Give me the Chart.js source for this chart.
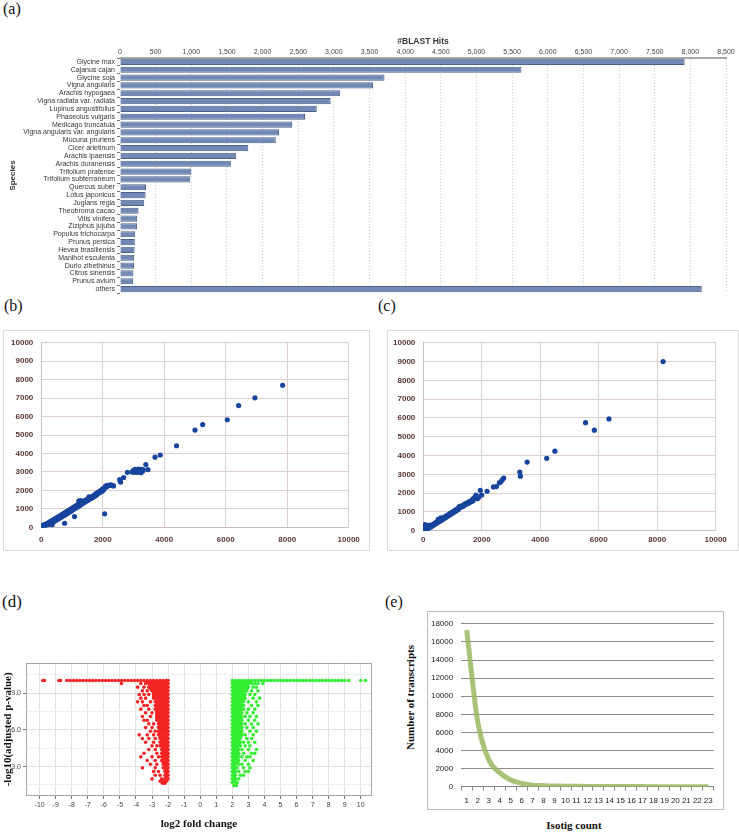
<!DOCTYPE html>
<html><head><meta charset="utf-8">
<script src="https://cdn.jsdelivr.net/npm/chart.js@4.4.1/dist/chart.umd.min.js"></script>
<style>
html,body{margin:0;padding:0;background:#fff;}
body{width:739px;height:832px;position:relative;overflow:hidden;font-family:'Liberation Serif',serif;}
canvas,.frame,.lbl,.ttl{position:absolute;}
.frame{box-sizing:border-box;border:1px solid #d9d9d9;}
.lbl{font-size:16px;line-height:16px;color:#111;white-space:nowrap;}
.ttl{font-weight:bold;font-size:11px;line-height:13px;text-align:center;white-space:nowrap;color:#111;}
</style></head><body>
<div class="lbl" style="left:3px;top:1px">(a)</div>
<div class="lbl" style="left:4px;top:298px">(b)</div>
<div class="lbl" style="left:378px;top:298px">(c)</div>
<div class="lbl" style="left:2px;top:593px;font-size:17px;line-height:17px">(d)</div>
<div class="lbl" style="left:385px;top:594px">(e)</div>

<canvas id="ca" width="739" height="272" style="left:0;top:30px"></canvas>

<div class="frame" style="left:3px;top:330px;width:367px;height:221px"></div>
<canvas id="cb" width="367" height="221" style="left:3px;top:330px"></canvas>

<div class="frame" style="left:387px;top:330px;width:352px;height:221px"></div>
<canvas id="cc" width="351" height="221" style="left:387px;top:330px"></canvas>

<canvas id="cd" width="380" height="182" style="left:0;top:650px"></canvas>

<div class="frame" style="left:427px;top:611px;width:297px;height:199px;border-color:#bdbdbd"></div>
<canvas id="ce" width="297" height="199" style="left:427px;top:611px"></canvas>
<div class="ttl" style="left:524px;top:819px;width:100px">Isotig count</div>
<div class="ttl" style="left:340px;top:691px;width:140px;transform:rotate(-90deg)">Number of transcripts</div>

<script>
// ---------- Panel (a): BLAST hits per species ----------
const species = ['Glycine max','Cajanus cajan','Glycine soja','Vigna angularis','Arachis hypogaea',
  'Vigna radiata var. radiata','Lupinus angustifolius','Phaseolus vulgaris','Medicago truncatula',
  'Vigna angularis var. angularis','Mucuna pruriens','Cicer arietinum','Arachis ipaensis',
  'Arachis duranensis','Trifolium pratense','Trifolium subterraneum','Quercus suber','Lotus japonicus',
  'Juglans regia','Theobroma cacao','Vitis vinifera','Ziziphus jujuba','Populus trichocarpa',
  'Prunus persica','Hevea brasiliensis','Manihot esculenta','Durio zibethinus','Citrus sinensis',
  'Prunus avium','others'];
const blastHits = [7920,5630,3710,3550,3090,2955,2760,2595,2415,2230,2185,1800,1630,1555,1000,985,
  365,360,340,260,240,238,212,208,205,198,196,188,184,8160];

// ---------- Panel (b) & (c): scatter points [x, y] ----------
const panelBPoints = [[0,0],[10,40],[20,10],[30,60],[40,20],[50,90],[60,40],[70,120],[80,60],[90,30],
 [100,100],[110,150],[120,80],[140,130],[150,40],[160,170],[170,110],[190,200],[200,150],[220,230],
 [230,170],[250,260],[260,190],[280,290],[290,220],[310,320],[320,250],[340,350],[350,130],[360,280],
 [380,390],[390,300],[410,420],[420,330],[440,450],[460,370],[470,480],[490,400],[500,510],[520,430],
 [530,540],[550,460],[560,570],[580,490],[590,600],[610,520],[620,630],[640,550],[650,660],[670,580],
 [680,690],[700,610],[710,720],[730,640],[740,750],[760,220],[760,670],[770,780],[790,700],[800,820],
 [820,730],[830,850],[850,760],[860,880],[880,790],[890,910],[910,830],[920,940],[940,860],[950,970],
 [970,890],[980,1000],[1000,920],[1010,1040],[1030,960],[1050,1080],[1070,1000],[1080,580],[1090,1120],
 [1110,1040],[1130,1160],[1150,1080],[1170,1200],[1190,1120],[1210,1250],[1220,1420],[1230,1160],
 [1250,1290],[1260,1450],[1280,1220],[1300,1340],[1310,1420],[1330,1280],[1350,1390],[1370,1320],
 [1400,1440],[1420,1370],[1450,1480],[1470,1420],[1500,1530],[1520,1470],[1550,1650],[1570,1520],
 [1600,1620],[1630,1570],[1660,1680],[1690,1630],[1720,1740],[1750,1700],[1780,1820],[1800,1760],
 [1830,1880],[1860,1840],[1890,1950],[1920,1900],[1950,2010],[1980,1960],[2000,2080],[2030,2040],
 [2060,730],[2060,2150],[2090,2230],[2120,2190],[2150,2280],[2200,2260],[2250,2300],[2300,2280],
 [2350,2240],[2550,2580],[2580,2450],[2680,2700],[2800,2980],[2950,3000],[3000,3080],[3020,2980],
 [3050,3140],[3080,3000],[3100,3060],[3130,2980],[3160,3160],[3190,3020],[3220,3100],[3240,2960],
 [3270,3140],[3300,3050],[3320,3120],[3400,3400],[3470,3130],[3700,3800],[3870,3920],[4400,4420],
 [5000,5270],[5250,5570],[6050,5830],[6420,6600],[6950,7020],[7850,7700]];

const panelCPoints = [[0,0],[0,100],[0,200],[10,300],[20,50],[30,250],[40,150],[50,320],[60,80],
 [70,200],[80,40],[90,130],[100,280],[110,90],[120,180],[130,60],[150,220],[160,120],[180,260],
 [190,150],[210,190],[220,300],[240,230],[260,200],[280,270],[300,250],[320,310],[340,290],[360,350],
 [380,330],[400,400],[420,370],[440,440],[460,410],[480,480],[500,450],[510,600],[530,520],[550,490],
 [570,560],[590,530],[600,680],[610,600],[630,570],[650,640],[670,610],[690,680],[710,650],[730,720],
 [750,690],[770,760],[790,730],[810,800],[830,770],[850,840],[870,810],[890,880],[910,850],[930,920],
 [950,890],[970,960],[990,930],[1010,1000],[1030,970],[1050,1040],[1070,1010],[1090,1080],[1110,1050],
 [1130,1120],[1150,1090],[1170,1160],[1190,1130],[1210,1200],[1230,1280],[1250,1230],[1270,1300],
 [1290,1250],[1320,1320],[1350,1290],[1380,1380],[1410,1350],[1440,1440],[1470,1410],[1500,1480],
 [1530,1450],[1560,1530],[1590,1500],[1620,1580],[1650,1560],[1680,1650],[1700,1600],[1720,1720],
 [1750,1750],[1780,1800],[1800,1900],[1850,1700],[1900,1800],[1950,2150],[2000,1900],[2180,2100],
 [2400,2330],[2500,2350],[2600,2550],[2650,2600],[2700,2700],[2750,2800],[3300,3120],[3320,2900],
 [3550,3650],[4220,3850],[4500,4230],[5550,5750],[5850,5350],[6350,5950],[8200,9000]];
const scatterTicks = {x:2000, y:1000};

// ---------- Panel (d): volcano rows [y, [x ...]] ----------
const downRegulated = [
 [10.05,[-9.8,-9.7,-8.8,-8.7,-8.3,-8.1,-7.9,-7.7,-7.5,-7.3,-7.1,-6.9,-6.7,-6.5,-6.3,-6.1,-5.9,-5.7,-5.5,-5.3,-5.1,-4.9,-4.7,-4.5,-4.3,-4.1,-3.9,-3.7,-3.5,-3.3,-3.1,-2.9,-2.7,-2.5,-2.3,-2.1,-2.0]],
 [9.95,[-2.1,-2.3,-2.5,-2.7,-2.9,-3.1,-3.3]],
 [9.8,[-2.0,-2.2,-2.4,-2.6,-2.8,-3.0,-3.2,-3.4,-3.7,-4.9]],
 [9.65,[-2.1,-2.3,-2.5,-2.7,-2.9,-3.1]],
 [9.5,[-2.0,-2.2,-2.4,-2.6,-2.8,-3.0,-3.2,-3.5,-3.9]],
 [9.35,[-2.1,-2.3,-2.5,-2.7,-2.9,-3.1]],
 [9.2,[-2.0,-2.2,-2.4,-2.6,-2.8,-3.0,-3.3,-3.6]],
 [9.05,[-2.1,-2.3,-2.5,-2.7,-2.9]],
 [8.9,[-2.0,-2.2,-2.4,-2.6,-2.8,-2.9,-3.2,-3.5,-3.8]],
 [8.75,[-2.1,-2.3,-2.5,-2.7,-2.9]],
 [8.6,[-2.0,-2.2,-2.4,-2.6,-2.8,-2.9,-3.4,-3.7]],
 [8.45,[-2.1,-2.3,-2.5,-2.7]],
 [8.3,[-2.0,-2.2,-2.4,-2.6,-2.8,-3.1,-3.6,-3.9]],
 [8.15,[-2.1,-2.3,-2.5,-2.7]],
 [8.0,[-2.0,-2.2,-2.4,-2.6,-2.8,-3.3,-3.5]],
 [7.85,[-2.1,-2.3,-2.5,-2.7]],
 [7.7,[-2.0,-2.2,-2.4,-2.6,-2.8,-3.2,-3.7]],
 [7.55,[-2.1,-2.3,-2.5,-2.7]],
 [7.4,[-2.0,-2.2,-2.4,-2.6,-2.7,-3.0,-3.4]],
 [7.25,[-2.1,-2.3,-2.5,-2.7]],
 [7.1,[-2.0,-2.2,-2.4,-2.6,-2.7,-3.1,-3.6]],
 [6.95,[-2.1,-2.3,-2.5,-2.7]],
 [6.8,[-2.0,-2.2,-2.4,-2.6,-2.7,-3.3,-3.5]],
 [6.65,[-2.1,-2.3,-2.5]],
 [6.5,[-2.0,-2.2,-2.4,-2.6,-2.9,-3.2]],
 [6.35,[-2.1,-2.3,-2.5]],
 [6.2,[-2.0,-2.2,-2.4,-2.6,-3.0,-3.4]],
 [6.05,[-2.1,-2.3,-2.5]],
 [5.9,[-2.0,-2.2,-2.4,-2.6,-2.8,-3.1]],
 [5.75,[-2.1,-2.3,-2.5]],
 [5.6,[-2.0,-2.2,-2.4,-2.6,-2.9,-3.3,-3.8]],
 [5.45,[-2.1,-2.3,-2.5]],
 [5.3,[-2.0,-2.2,-2.4,-2.5,-2.8,-3.2,-3.6]],
 [5.15,[-2.1,-2.3,-2.4]],
 [5.0,[-2.0,-2.2,-2.4,-2.5,-2.9,-3.4]],
 [4.85,[-2.1,-2.3,-2.4]],
 [4.7,[-2.0,-2.2,-2.4,-2.5,-2.7,-3.0]],
 [4.55,[-2.1,-2.3]],
 [4.4,[-2.0,-2.2,-2.4,-2.8,-3.2]],
 [4.25,[-2.1,-2.3]],
 [4.1,[-2.0,-2.2,-2.4,-2.7,-3.5]],
 [3.95,[-2.1,-2.3]],
 [3.8,[-2.0,-2.2,-2.4,-2.6,-3.0,-3.7]],
 [3.65,[-2.1,-2.3]],
 [3.5,[-2.0,-2.2,-2.4,-2.8,-3.3]],
 [3.35,[-2.1,-2.3]],
 [3.2,[-2.0,-2.2,-2.3,-2.7,-3.1]],
 [3.05,[-2.1]],
 [2.9,[-2.0,-2.2,-2.3,-2.8,-3.6]],
 [2.75,[-2.1]],
 [2.6,[-2.0,-2.2,-2.6,-2.9]],
 [2.45,[-2.1]],
 [2.3,[-2.0,-2.2,-2.5,-2.8]],
 [2.15,[-2.1]],
 [2.0,[-2.0,-2.2,-2.4,-3.0]],
 [1.8,[-2.1,-2.3,-2.5]],
 [1.65,[-2.2,-2.35]]
];
const upRegulated = [
 [10.05,[2.0,2.2,2.4,2.6,2.8,3.0,3.2,3.4,3.6,3.8,4.0,4.2,4.4,4.6,4.8,5.0,5.2,5.4,5.6,5.8,6.0,6.2,6.4,6.6,6.8,7.0,7.2,7.4,7.6,7.8,8.0,8.2,8.4,8.6,8.8,9.0,9.25,10.0,10.3]],
 [9.95,[2.1,2.3,2.5,2.7,2.9,3.1]],
 [9.8,[2.0,2.2,2.4,2.6,2.8,3.0,3.2,3.4,3.6,3.9]],
 [9.65,[2.1,2.3,2.5,2.7,2.9]],
 [9.5,[2.0,2.2,2.4,2.6,2.8,3.0,3.3,3.5]],
 [9.35,[2.1,2.3,2.5,2.7,2.9]],
 [9.2,[2.0,2.2,2.4,2.6,2.8,2.9,3.2,3.6]],
 [9.05,[2.1,2.3,2.5,2.7]],
 [8.9,[2.0,2.2,2.4,2.6,2.8,3.1,3.4]],
 [8.75,[2.1,2.3,2.5,2.7]],
 [8.6,[2.0,2.2,2.4,2.6,2.8,3.3,3.7]],
 [8.45,[2.1,2.3,2.5,2.7]],
 [8.3,[2.0,2.2,2.4,2.6,2.7,3.0,3.5]],
 [8.15,[2.1,2.3,2.5]],
 [8.0,[2.0,2.2,2.4,2.6,2.7,3.2,3.6]],
 [7.85,[2.1,2.3,2.5]],
 [7.7,[2.0,2.2,2.4,2.6,2.7,3.0,3.4]],
 [7.55,[2.1,2.3,2.5]],
 [7.4,[2.0,2.2,2.4,2.6,2.9,3.3]],
 [7.25,[2.1,2.3,2.5]],
 [7.1,[2.0,2.2,2.4,2.6,2.8,3.1,3.5]],
 [6.95,[2.1,2.3,2.5]],
 [6.8,[2.0,2.2,2.4,2.6,3.0,3.4]],
 [6.65,[2.1,2.3,2.5]],
 [6.5,[2.0,2.2,2.4,2.6,2.8,3.2,3.6]],
 [6.35,[2.1,2.3,2.5]],
 [6.2,[2.0,2.2,2.4,2.6,2.9,3.3]],
 [6.05,[2.1,2.3,2.5]],
 [5.9,[2.0,2.2,2.4,2.6,3.1,3.5]],
 [5.75,[2.1,2.3,2.5]],
 [5.6,[2.0,2.2,2.4,2.6,2.8,3.3]],
 [5.45,[2.1,2.3,2.5]],
 [5.3,[2.0,2.2,2.4,2.5,2.9,3.2]],
 [5.15,[2.1,2.3,2.4]],
 [5.0,[2.0,2.2,2.4,2.5,2.7,3.0,3.4]],
 [4.85,[2.1,2.3,2.4]],
 [4.7,[2.0,2.2,2.4,2.5,2.8,3.1]],
 [4.55,[2.1,2.3]],
 [4.4,[2.0,2.2,2.4,2.6,3.0,3.5]],
 [4.25,[2.1,2.3]],
 [4.1,[2.0,2.2,2.4,2.7,3.2,3.4]],
 [3.95,[2.1,2.3]],
 [3.8,[2.0,2.2,2.4,2.6,2.9,3.1]],
 [3.65,[2.1,2.3]],
 [3.5,[2.0,2.2,2.4,2.8,3.3]],
 [3.35,[2.1,2.3]],
 [3.2,[2.0,2.2,2.4,2.6,3.0]],
 [3.05,[2.1]],
 [2.9,[2.0,2.2,2.3,2.7,3.1]],
 [2.75,[2.1]],
 [2.6,[2.0,2.2,2.4,2.8,3.0]],
 [2.45,[2.1]],
 [2.3,[2.0,2.2,2.5,2.7]],
 [2.15,[2.1]],
 [2.0,[2.0,2.2,2.4]],
 [1.85,[2.1]],
 [1.7,[2.0,2.2,2.3]],
 [1.45,[2.1,2.25]]
];
const volcanoXTicks = [-10,-9,-8,-7,-6,-5,-4,-3,-2,-1,0,1,2,3,4,5,6,7,8,9,10];
const volcanoYTicks = [1.5,3,4.5,6,7.5,9,10.5];

// ---------- Panel (e): isotig distribution ----------
const isotigCounts = ['1','2','3','4','5','6','7','8','9','10','11','12','13','14','15','16','17','18','19','20','21','22','23'];
const transcripts = [17300,7200,3000,1550,750,370,170,110,80,50,40,30,25,20,15,12,10,8,6,5,4,3,2];

// ---------- helpers ----------
Chart.defaults.font.family = "'Liberation Sans', Arial, sans-serif";
Chart.defaults.animation = false;
const fixW = w => s => { s.width = w; };
const fixH = h => s => { s.height = h; };
const toXY = arr => arr.map(([x, y]) => ({x, y}));
const rowsToXY = rows => rows.flatMap(([y, xs]) => xs.map(x => ({x, y})));
const plain = v => String(v);
const commas = v => v >= 1000 ? Math.floor(v / 1000) + ',' + String(v % 1000).padStart(3, '0') : String(v);
const base = {responsive:false, animation:false, events:[], devicePixelRatio:1,
  plugins:{legend:{display:false}, tooltip:{enabled:false}}};
const framePlugin = {id:'frame', beforeDatasetsDraw(chart){
  const a = chart.chartArea, c = chart.ctx; c.save(); c.strokeStyle = '#a6a6a6'; c.lineWidth = 1;
  c.strokeRect(Math.round(a.left)+0.5, Math.round(a.top)+0.5, Math.round(a.width)-1, Math.round(a.height)-1); c.restore(); }};

// (a)
new Chart(document.getElementById('ca'), {
  type:'bar',
  data:{labels:species, datasets:[{data:blastHits, backgroundColor:'#7189b4', borderColor:'#4c6188',
    borderWidth:1, categoryPercentage:1, barPercentage:0.78}]},
  options:{...base, indexAxis:'y',
    layout:{padding:{left:0, right:13, top:0, bottom:9}},
    scales:{
      x:{position:'top', min:0, max:8500, afterFit:fixH(28),
        ticks:{stepSize:500, font:{size:7}, color:'#444', padding:2, maxRotation:0, autoSkip:false, callback:v => commas(v)},
        grid:{color:'#cdcdcd', drawTicks:false},
        border:{color:'#a8a8a8', width:2, dash:[1,2]},
        title:{display:true, text:'#BLAST Hits', font:{size:8.5, weight:'bold'}, color:'#333', padding:{top:7, bottom:0}}},
      y:{afterFit:fixW(120),
        ticks:{font:{size:7}, color:'#333', padding:2, autoSkip:false},
        grid:{drawOnChartArea:false, tickLength:3, color:'#777'},
        border:{display:false},
        title:{display:true, text:'Species', font:{size:8, weight:'bold'}, color:'#333', padding:{top:8, bottom:0}}}
    }}
});

function scatterChart(id, pts, pad, yW, xH, xPad){
  return new Chart(document.getElementById(id), {
    type:'scatter',
    data:{datasets:[{data:toXY(pts), backgroundColor:'#17449c', borderWidth:0, pointRadius:2.6}]},
    options:{...base,
      layout:{padding:pad},
      scales:{
        x:{type:'linear', min:0, max:10000, afterFit:fixH(xH),
          ticks:{stepSize:scatterTicks.x, font:{size:8, weight:'bold'}, color:'#5a3434', padding:xPad, maxRotation:0, callback:plain},
          grid:{color:'#dccfcf', drawTicks:false}, border:{color:'#cdbfbf'}},
        y:{min:0, max:10000, afterFit:fixW(yW),
          ticks:{stepSize:scatterTicks.y, font:{size:8, weight:'bold'}, color:'#5a3434', padding:8, callback:plain},
          grid:{color:'#dccfcf', drawTicks:false}, border:{color:'#cdbfbf'}}
      }}
  });
}
scatterChart('cb', panelBPoints, {left:0, top:11.7, right:21.3, bottom:0}, 38.3, 23.7, 8);
scatterChart('cc', panelCPoints, {left:0, top:11.7, right:22.3, bottom:0}, 36.3, 20.3, 4);

// (d)
new Chart(document.getElementById('cd'), {
  type:'scatter',
  data:{datasets:[
    {data:rowsToXY(downRegulated), backgroundColor:'#f42424', borderWidth:0, pointRadius:1.8},
    {data:rowsToXY(upRegulated), backgroundColor:'#33ee33', borderWidth:0, pointRadius:1.8}]},
  options:{...base,
    layout:{padding:{left:0, right:8, top:12.7, bottom:0}},
    scales:{
      x:{type:'linear', min:-10.85, max:10.7, afterFit:fixH(36),
        afterBuildTicks:s => { s.ticks = volcanoXTicks.map(v => ({value:v})); },
        ticks:{font:{size:7}, color:'#444', padding:2, autoSkip:false, maxRotation:0, callback:plain},
        grid:{color:'#e3e3e3', tickLength:3, tickColor:'#777'}, border:{display:false},
        title:{display:true, text:'log2 fold change', font:{family:"'Liberation Serif', serif", size:11, weight:'bold'}, color:'#111', padding:{top:0, bottom:1}}},
      y:{min:0.6, max:11.5, afterFit:fixW(26),
        afterBuildTicks:s => { s.ticks = volcanoYTicks.map(v => ({value:v})); },
        ticks:{font:{size:7}, color:'#444', padding:2, callback:v => (v % 3 === 0 ? v.toFixed(1) : '')},
        grid:{color:c => (c.tick && c.tick.value % 3 === 0 ? '#e0e0e0' : '#f0f0f0'), tickLength:3,
          tickColor:c => (c.tick && c.tick.value % 3 === 0 ? '#777' : 'rgba(0,0,0,0)')},
        border:{display:false},
        title:{display:true, text:'-log10(adjusted p-value)', font:{family:"'Liberation Serif', serif", size:11, weight:'bold'}, color:'#111', padding:{top:2, bottom:0}}}
    }},
  plugins:[framePlugin]
});

// (e)
new Chart(document.getElementById('ce'), {
  type:'line',
  data:{labels:isotigCounts, datasets:[{data:transcripts, borderColor:'rgba(150,185,95,0.85)', borderWidth:5,
    pointRadius:0, cubicInterpolationMode:'monotone', fill:false}]},
  options:{...base,
    layout:{padding:{left:0, right:10.2, top:9.7, bottom:0}},
    scales:{
      x:{offset:true, afterFit:fixH(23.3),
        ticks:{font:{size:8}, color:'#222', padding:5, autoSkip:false, maxRotation:0},
        grid:{offset:true, drawOnChartArea:false, tickLength:4, color:'#868686'}, border:{color:'#868686'}},
      y:{min:0, max:18000, afterFit:fixW(34.2),
        ticks:{stepSize:2000, font:{size:8}, color:'#222', padding:8, callback:plain},
        grid:{color:'#8c8c8c', drawTicks:false}, border:{display:false}}
    }}
});
</script>
</body></html>
